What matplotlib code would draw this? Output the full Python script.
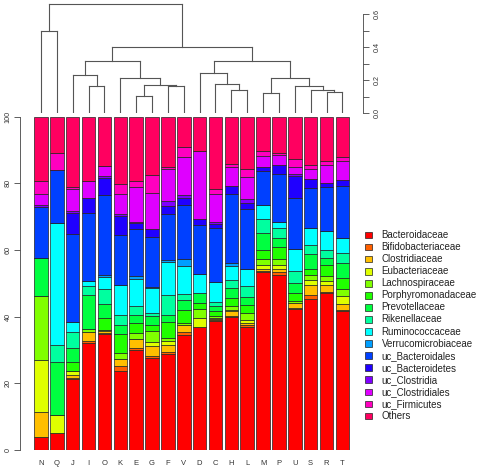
#Stacked bar chart of family abundances per sample with a cluster dendrogram on top
from matplotlib import pyplot as plt
from matplotlib import patches as mp
import numpy as np

plt.rcParams['font.family'] = ['Liberation Sans', 'DejaVu Sans']

SAMPLES = ['N', 'Q', 'J', 'I', 'O', 'K', 'E', 'G', 'F', 'V',
           'D', 'C', 'H', 'L', 'M', 'P', 'U', 'S', 'R', 'T']

FAMILIES = [
    'Bacteroidaceae', 'Bifidobacteriaceae', 'Clostridiaceae', 'Eubacteriaceae',
    'Lachnospiraceae', 'Porphyromonadaceae', 'Prevotellaceae', 'Rikenellaceae',
    'Ruminococcaceae', 'Verrucomicrobiaceae', 'uc_Bacteroidales', 'uc_Bacteroidetes',
    'uc_Clostridia', 'uc_Clostridiales', 'uc_Firmicutes', 'Others',
]

#percentages per sample, same order as SAMPLES
bacteroidaceae = [3.9, 5.2, 21.2, 32.1, 34.7, 23.7, 29.9, 27.5, 28.9, 34.6, 36.8, 38.8, 39.8, 36.8, 53.3, 52.6, 42.4, 45.2, 47.0, 41.6]
bifidobacteriaceae = [0, 0, 0.5, 0.6, 0.4, 1.4, 0.7, 0.7, 0.6, 0.8, 0, 0.3, 0.3, 0.6, 0.3, 0.8, 0.3, 1.2, 0.4, 0.3]
clostridiaceae = [7.5, 0, 0.8, 2.7, 0.5, 2.3, 2.8, 3.0, 2.0, 2.2, 0, 0.3, 1.5, 0.8, 0.8, 1.0, 1.3, 3.0, 2.0, 2.0]
eubacteriaceae = [15.5, 5.2, 1.2, 0, 0.4, 0, 0, 1.2, 1.2, 0, 2.7, 0.3, 0.5, 0.8, 1.0, 1.2, 0, 1.7, 1.2, 2.3]
lachnospiraceae = [19.2, 0, 0, 1.0, 0, 1.8, 1.6, 3.2, 0.8, 0.4, 2.7, 0.6, 1.0, 2.2, 1.8, 1.8, 0.6, 1.3, 1.5, 2.0]
porphyromonadaceae = [0, 0, 2.8, 0, 3.5, 5.5, 3.0, 2.0, 5.0, 3.9, 1.9, 1.5, 2.4, 2.3, 2.7, 3.5, 2.4, 2.0, 3.5, 3.3]
prevotellaceae = [11.5, 15.9, 4.0, 10.0, 4.4, 2.7, 2.4, 2.6, 2.0, 3.0, 2.9, 1.5, 3.0, 2.5, 5.3, 2.7, 3.0, 4.5, 2.0, 4.5]
rikenellaceae = [0, 5.2, 5.0, 2.8, 4.5, 3.0, 2.8, 1.0, 6.0, 2.0, 0, 1.2, 2.4, 3.2, 4.2, 3.0, 3.6, 2.5, 2.5, 3.0]
ruminococcaceae = [0, 36.7, 3.0, 1.4, 3.5, 9.0, 8.2, 7.4, 10.0, 8.3, 5.9, 5.9, 4.3, 5.2, 4.2, 1.8, 6.8, 5.2, 5.5, 4.5]
verrucomicrobiaceae = [0, 0, 0, 0, 0.5, 0, 0.8, 0.4, 0.5, 2.0, 0, 0, 1.0, 0, 0, 0, 0, 0, 0, 0]
uc_bacteroidales = [15.3, 15.9, 26.4, 20.6, 24.2, 15.0, 14.0, 14.9, 13.9, 16.2, 14.7, 16.2, 20.7, 17.8, 10.0, 14.5, 15.2, 12.0, 13.4, 15.7]
uc_bacteroidetes = [0, 0, 6.3, 4.4, 5.0, 5.7, 1.9, 2.3, 2.2, 2.2, 1.6, 1.1, 2.3, 2.0, 1.3, 2.7, 6.6, 2.6, 1.2, 1.8]
uc_clostridia = [0.5, 0, 0.4, 0, 0.5, 0.6, 0.4, 0, 1.5, 0.8, 0, 0.7, 0, 1.0, 0, 0, 0.7, 0, 0, 0]
uc_clostridiales = [3.5, 0, 6.6, 5.0, 3.0, 6.0, 10.4, 10.9, 9.6, 11.5, 20.4, 8.5, 5.7, 6.7, 3.2, 3.0, 2.0, 3.0, 5.3, 5.7]
uc_firmicutes = [3.7, 5.1, 0.7, 0, 0, 3.0, 1.8, 5.3, 0.7, 3.0, 0, 1.3, 1.0, 2.3, 1.5, 0.6, 2.3, 1.4, 1.3, 1.3]
others = [19.4, 10.8, 21.1, 19.4, 14.9, 20.3, 19.3, 17.6, 15.1, 9.1, 10.4, 21.8, 14.1, 15.8, 10.4, 10.8, 12.8, 14.4, 13.2, 12.0]

VALUES = [bacteroidaceae, bifidobacteriaceae, clostridiaceae, eubacteriaceae,
          lachnospiraceae, porphyromonadaceae, prevotellaceae, rikenellaceae,
          ruminococcaceae, verrucomicrobiaceae, uc_bacteroidales, uc_bacteroidetes,
          uc_clostridia, uc_clostridiales, uc_firmicutes, others]

#R rainbow(16)
COLOURS = ['#FF0000', '#FF6000', '#FFBF00', '#DFFF00', '#80FF00', '#20FF00',
           '#00FF40', '#00FF9F', '#00FFFF', '#009FFF', '#0040FF', '#2000FF',
           '#8000FF', '#DF00FF', '#FF00BF', '#FF0060']

#dendrogram merges: (child, child, height); leaves 0-19, new clusters numbered from 20
MERGES = [
    (3, 4, 0.164), (2, 20, 0.233), (6, 7, 0.103), (8, 9, 0.164),
    (22, 23, 0.172), (5, 24, 0.215), (21, 25, 0.318), (12, 13, 0.138),
    (11, 27, 0.178), (10, 28, 0.243), (14, 15, 0.122), (18, 19, 0.126),
    (17, 31, 0.142), (16, 32, 0.164), (30, 33, 0.215), (29, 34, 0.318),
    (26, 35, 0.403), (0, 1, 0.497), (37, 36, 0.661),
]

W, H = 484, 471
fig = plt.figure(figsize=(W / 100, H / 100), dpi=100)

XL, XR = 20, 363
x = np.arange(len(SAMPLES))
xlim = (-1.324, 20.30)
axcol = '#444444'

#stacked bars
ax = fig.add_axes([XL / W, (H - 450) / H, (XR - XL) / W, (450 - 116.7) / H])
bottom = np.zeros(len(SAMPLES))
for vals, col in zip(VALUES, COLOURS):
    ax.bar(x, vals, bottom=bottom, width=0.85, color=col,
           edgecolor='#222222', linewidth=0.5)
    bottom += np.array(vals)

ax.set_xlim(xlim)
ax.set_ylim(0, 100)
for s in ['top', 'right', 'bottom']:
    ax.spines[s].set_visible(False)
ax.spines['left'].set_color(axcol)
ax.spines['left'].set_linewidth(0.6)
ax.set_yticks([0, 20, 40, 60, 80, 100])
ax.tick_params(axis='y', length=4, width=0.6, color=axcol, labelsize=5.2,
               labelcolor='#333333', pad=2)
for lab in ax.get_yticklabels():
    lab.set_rotation(90)
    lab.set_va('center')
ax.set_xticks(x)
ax.set_xticklabels(SAMPLES)
ax.tick_params(axis='x', length=0, labelsize=5.5, labelcolor='#333333', pad=7)

#dendrogram
dax = fig.add_axes([XL / W, (H - 113) / H, (XR - XL) / W, 110 / H])
pos = list(x.astype(float))
hgt = [0.0] * len(SAMPLES)
for a, b, h in MERGES:
    for c in (a, b):
        dax.plot([pos[c], pos[c]], [hgt[c], h], color='#555555', lw=0.8)
    dax.plot([pos[a], pos[b]], [h, h], color='#555555', lw=0.8)
    pos.append((pos[a] + pos[b]) / 2)
    hgt.append(h)

dax.set_xlim(xlim)
dax.set_ylim(0, 110 / 165)
for s in ['top', 'left', 'bottom']:
    dax.spines[s].set_visible(False)
dax.spines['right'].set_bounds(0, 0.6)
dax.spines['right'].set_color(axcol)
dax.spines['right'].set_linewidth(0.6)
dax.set_xticks([])
dax.yaxis.tick_right()
dax.set_yticks([0, 0.1, 0.2, 0.3, 0.4, 0.5, 0.6])
dax.set_yticklabels(['0.0', '', '0.2', '', '0.4', '', '0.6'])
dax.tick_params(axis='y', length=4, width=0.6, color=axcol, labelsize=5.2,
                labelcolor='#333333', pad=4)
for lab in dax.get_yticklabels():
    lab.set_rotation(90)
    lab.set_va('center')

#legend drawn as filled squares with labels
for i, (name, col) in enumerate(zip(FAMILIES, COLOURS)):
    yc = 235 + 12.07 * i
    sq = mp.Rectangle((365 / W, (H - yc - 3.3) / H), 6.7 / W, 6.7 / H,
                      transform=fig.transFigure, facecolor=col,
                      edgecolor='#222222', linewidth=0.5)
    fig.add_artist(sq)
    fig.text(381.5 / W, (H - yc) / H, name, fontsize=7, color='#222222',
             va='center', ha='left')

plt.savefig('out.png', dpi=100)
